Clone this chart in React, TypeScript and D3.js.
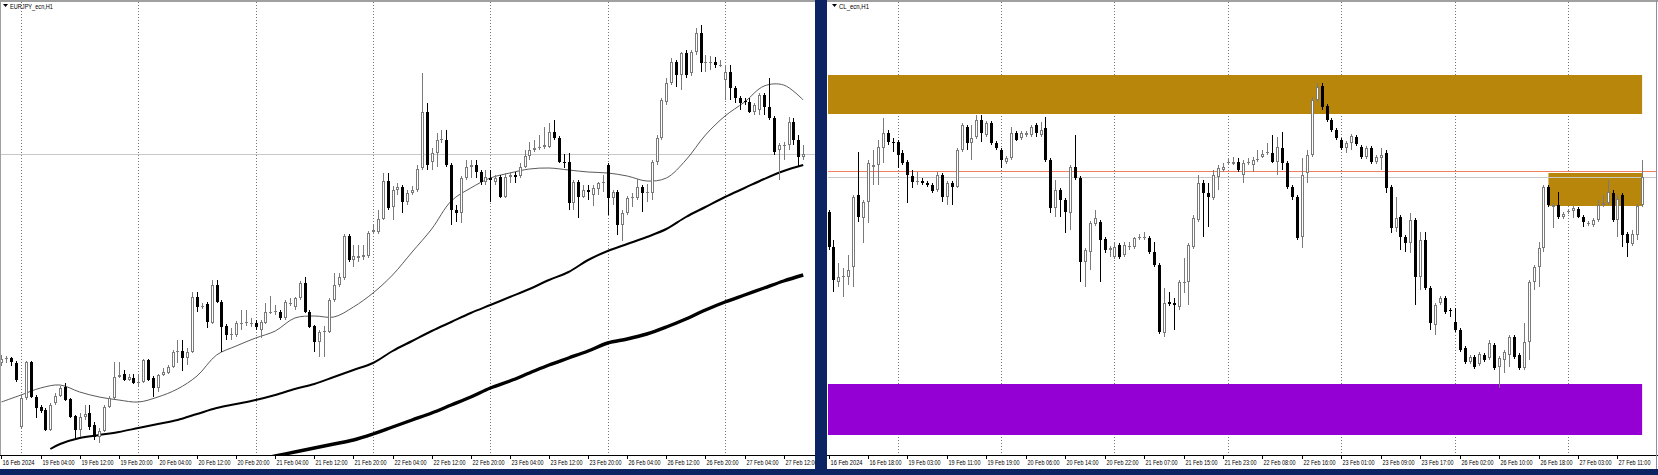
import React from 'react';
import * as d3 from 'd3';

const W = 1658;
const H = 475;

// ---------------- EURJPY_ecn, H1 ----------------
const eurTitle = 'EURJPY_ecn,H1';
const eurLabels = ['16 Feb 2024','19 Feb 04:00','19 Feb 12:00','19 Feb 20:00','20 Feb 04:00','20 Feb 12:00','20 Feb 20:00','21 Feb 04:00','21 Feb 12:00','21 Feb 20:00','22 Feb 04:00','22 Feb 12:00','22 Feb 20:00','23 Feb 04:00','23 Feb 12:00','23 Feb 20:00','26 Feb 04:00','26 Feb 12:00','26 Feb 20:00','27 Feb 04:00','27 Feb 12:00'];
const eurLabelBars = [0,8,16,24,32,40,48,56,64,72,80,88,96,104,112,120,128,136,144,152,160];
const eurDayStartBars = [4,28,52,76,100,124,148];

const eurOpen = [160.37,160.41,160.42,160.37,159.73,160.02,160.38,160.03,159.93,159.90,
159.70,159.97,160.04,160.13,160.01,159.84,159.70,159.83,159.87,159.75,
159.63,159.69,159.93,160.02,160.23,160.26,160.20,160.22,160.17,160.18,
160.40,160.22,160.12,160.25,160.27,160.33,160.48,160.49,160.42,160.48,
161.03,160.93,160.96,160.77,161.15,160.98,160.74,160.65,160.65,160.76,
160.77,160.77,160.77,160.70,160.77,160.88,160.88,160.88,160.82,160.97,
160.93,161.02,161.17,160.88,160.74,160.58,160.68,160.68,161.00,161.15,
161.22,161.64,161.40,161.42,161.43,161.44,161.68,161.68,161.81,162.19,
161.93,162.10,162.13,161.98,162.07,162.10,162.32,162.88,162.38,162.47,
162.60,162.60,162.35,161.90,161.87,162.22,162.33,162.35,162.28,162.18,
162.22,162.18,162.23,162.03,162.23,162.25,162.24,162.33,162.44,162.50,
162.52,162.53,162.53,162.68,162.62,162.38,162.38,161.97,162.18,162.03,
162.10,162.05,162.11,162.17,162.35,162.02,162.08,161.75,161.87,162.02,
162.02,162.13,162.07,162.07,162.38,162.62,162.98,163.17,163.38,163.25,
163.47,163.27,163.48,163.67,163.37,163.37,163.38,163.35,163.20,163.28,
163.12,163.02,162.99,162.98,162.88,162.90,163.05,162.93,162.82,162.50,
162.54,162.55,162.78,162.60,162.43];
const eurHigh = [160.45,160.44,160.43,160.39,160.04,160.39,160.39,160.05,159.95,159.92,
159.97,160.07,160.14,160.17,160.02,159.85,159.87,159.95,159.95,159.78,
159.72,159.95,160.04,160.38,160.38,160.30,160.26,160.26,160.25,160.41,
160.41,160.24,160.26,160.32,160.35,160.50,160.60,160.60,160.52,161.08,
161.08,160.97,160.98,161.20,161.20,161.00,160.76,160.72,160.79,160.90,
160.90,160.82,160.80,160.80,160.97,161.04,160.95,160.90,161.00,161.02,
161.03,161.19,161.23,160.90,160.75,160.70,160.74,161.02,161.27,161.27,
161.66,161.66,161.55,161.55,161.55,161.69,161.75,161.90,162.27,162.27,
162.14,162.17,162.15,162.10,162.14,162.35,163.27,162.97,162.52,162.67,
162.70,162.70,162.37,161.95,162.24,162.40,162.40,162.40,162.30,162.30,
162.30,162.25,162.25,162.27,162.28,162.28,162.37,162.50,162.58,162.60,
162.65,162.73,162.77,162.80,162.64,162.46,162.47,162.20,162.20,162.15,
162.15,162.15,162.18,162.25,162.37,162.10,162.10,161.90,162.04,162.07,
162.21,162.15,162.16,162.40,162.65,163.02,163.22,163.42,163.40,163.48,
163.50,163.50,163.72,163.75,163.45,163.44,163.43,163.40,163.35,163.35,
163.14,163.04,163.02,163.02,162.97,163.07,163.07,163.22,162.84,162.57,
162.58,162.83,162.82,162.65,162.55];
const eurLow = [160.34,160.37,160.34,160.18,159.72,160.00,160.02,159.82,159.87,159.69,
159.69,159.95,160.03,159.99,159.82,159.60,159.63,159.80,159.70,159.60,
159.57,159.68,159.92,160.01,160.22,160.19,160.19,160.16,160.14,160.17,
160.19,160.03,160.08,160.24,160.26,160.32,160.37,160.29,160.35,160.47,
160.88,160.91,160.72,160.76,160.97,160.48,160.60,160.60,160.63,160.70,
160.74,160.73,160.70,160.62,160.76,160.86,160.85,160.80,160.80,160.94,
160.90,161.00,160.87,160.72,160.48,160.43,160.43,160.67,160.98,161.13,
161.20,161.38,161.33,161.38,161.40,161.42,161.66,161.66,161.80,161.90,
161.80,162.05,161.87,161.95,162.05,162.08,162.30,162.30,162.30,162.33,
162.57,162.33,161.75,161.78,161.77,162.20,162.22,162.22,162.15,162.15,
161.98,162.15,162.02,162.02,162.17,162.17,162.22,162.32,162.40,162.48,
162.50,162.51,162.52,162.60,162.37,162.32,161.90,161.90,161.82,162.02,
162.00,161.94,162.05,162.08,161.85,161.95,161.65,161.59,161.85,161.93,
162.00,161.88,161.98,162.00,162.35,162.60,162.95,163.15,163.13,163.10,
163.22,163.24,163.45,163.28,163.28,163.30,163.32,163.33,163.00,163.00,
162.97,162.90,162.95,162.87,162.85,162.85,162.85,162.80,162.45,162.20,
162.40,162.50,162.55,162.33,162.40];
const eurClose = [160.41,160.42,160.38,160.20,160.02,160.38,160.03,159.92,159.89,159.70,
159.95,160.04,160.12,160.00,159.83,159.70,159.83,159.86,159.73,159.63,
159.69,159.93,160.02,160.23,160.25,160.20,160.23,160.17,160.18,160.40,
160.20,160.12,160.25,160.28,160.33,160.48,160.49,160.42,160.48,161.03,
160.93,160.94,160.78,161.15,160.98,160.73,160.65,160.66,160.77,160.77,
160.78,160.77,160.73,160.78,160.88,160.88,160.89,160.82,160.98,160.97,
161.02,161.17,160.88,160.73,160.58,160.68,160.69,161.00,161.15,161.23,
161.64,161.40,161.44,161.44,161.45,161.67,161.70,161.81,162.19,161.92,
162.10,162.13,161.98,162.07,162.10,162.31,162.88,162.35,162.47,162.60,
162.61,162.35,161.90,161.87,162.22,162.33,162.35,162.28,162.18,162.23,
162.20,162.22,162.03,162.23,162.25,162.23,162.33,162.44,162.50,162.52,
162.53,162.55,162.68,162.62,162.38,162.37,161.97,162.18,162.03,162.10,
162.08,162.12,162.17,162.18,162.02,162.08,161.75,161.87,162.02,162.03,
162.13,162.07,162.08,162.38,162.62,163.00,163.17,163.38,163.25,163.47,
163.25,163.48,163.67,163.37,163.38,163.38,163.35,163.35,163.28,163.12,
163.02,162.97,162.98,162.88,162.95,163.05,162.93,162.82,162.48,162.55,
162.55,162.78,162.60,162.43,162.46];

// moving averages, sampled at bar indices
const eurMaFastBars = [0,4,8,12,16,20,24,28,32,36,40,44,48,52,56,60,64,68,72,76,80,84,88,92,96,100,104,108,112,116,120,124,128,132,136,140,144,148,152,156,160,164];
const eurMaFast = [159.98,160.05,160.12,160.15,160.08,160.03,160.00,159.98,160.03,160.11,160.24,160.45,160.54,160.62,160.69,160.82,160.84,160.83,160.93,161.07,161.25,161.48,161.71,161.99,162.12,162.22,162.27,162.31,162.32,162.30,162.28,162.27,162.24,162.19,162.22,162.40,162.65,162.84,162.98,163.14,163.15,163.00];
const eurMaMidBars = [10,12,16,20,24,28,32,36,40,44,48,52,56,60,64,68,72,76,80,84,88,92,96,100,104,108,112,116,120,124,128,132,136,140,144,148,152,156,160,164];
const eurMaMid = [159.51,159.56,159.62,159.65,159.68,159.72,159.76,159.80,159.86,159.92,159.96,160.00,160.05,160.11,160.16,160.23,160.30,160.37,160.49,160.59,160.69,160.78,160.87,160.95,161.03,161.11,161.20,161.28,161.40,161.49,161.56,161.63,161.71,161.83,161.93,162.03,162.12,162.21,162.29,162.35];
const eurMaSlowBars = [54,56,60,64,68,72,76,80,84,88,92,96,100,104,108,112,116,120,124,128,132,136,140,144,148,152,156,160,164];
const eurMaSlow = [159.42,159.44,159.48,159.52,159.56,159.60,159.66,159.73,159.80,159.87,159.95,160.03,160.12,160.19,160.27,160.35,160.42,160.49,160.57,160.61,160.66,160.73,160.81,160.90,160.98,161.05,161.12,161.19,161.25];

// ---------------- CL_ecn, H1 ----------------
const clTitle = 'CL_ecn,H1';
const clLabels = ['16 Feb 2024','16 Feb 18:00','19 Feb 03:00','19 Feb 11:00','19 Feb 19:00','20 Feb 06:00','20 Feb 14:00','20 Feb 22:00','21 Feb 07:00','21 Feb 15:00','21 Feb 23:00','22 Feb 08:00','22 Feb 16:00','23 Feb 01:00','23 Feb 09:00','23 Feb 17:00','26 Feb 02:00','26 Feb 10:00','26 Feb 18:00','27 Feb 03:00','27 Feb 11:00'];
const clLabelBars = [0,8,16,24,32,40,48,56,64,72,80,88,96,104,112,120,128,136,144,152,160];
const clDayStartBars = [14,35,58,81,104,127,150];

const clOpen = [77.88,77.53,77.18,77.23,77.23,77.33,78.05,77.82,77.98,78.33,
78.35,78.52,78.67,78.58,78.58,78.47,78.38,78.24,78.18,78.19,
78.17,78.15,78.10,78.25,78.03,78.17,78.13,78.50,78.73,78.57,
78.63,78.80,78.65,78.77,78.57,78.50,78.38,78.42,78.67,78.62,
78.65,78.65,78.75,78.65,78.72,78.40,77.92,78.10,78.00,77.87,
78.33,78.22,77.38,77.48,77.76,77.78,77.61,77.50,77.43,77.55,
77.45,77.53,77.53,77.63,77.62,77.62,77.48,77.35,76.67,76.98,
76.97,76.93,77.17,77.18,77.53,77.80,78.17,78.07,78.02,78.23,
78.30,78.37,78.36,78.38,78.25,78.37,78.35,78.40,78.43,78.47,
78.47,78.38,78.52,78.37,78.13,78.03,77.63,78.27,78.45,79.00,
79.14,78.94,78.80,78.70,78.60,78.52,78.57,78.63,78.53,78.43,
78.52,78.38,78.42,78.47,78.13,77.72,77.83,77.63,77.57,77.80,
77.23,77.60,77.12,76.75,76.97,77.02,76.90,76.78,76.70,76.52,
76.38,76.43,76.36,76.45,76.42,76.55,76.33,76.40,76.45,76.63,
76.45,76.32,76.58,77.18,77.33,77.52,78.13,77.93,77.95,77.83,
77.88,77.89,77.91,77.83,77.76,77.75,77.80,77.95,77.97,78.07,
77.80,78.05,77.66,77.56,77.65,77.95];
const clHigh = [77.90,77.60,77.37,77.32,77.45,78.05,78.48,78.00,78.40,78.50,
78.60,78.82,78.70,78.62,78.60,78.50,78.40,78.30,78.28,78.22,
78.19,78.17,78.28,78.27,78.19,78.19,78.52,78.77,78.75,78.75,
78.85,78.85,78.79,78.79,78.59,78.52,78.44,78.73,78.69,78.69,
78.69,78.75,78.77,78.78,78.83,78.42,78.20,78.12,78.02,78.35,
78.65,78.24,77.52,77.79,77.90,77.80,77.63,77.54,77.58,77.57,
77.58,77.58,77.63,77.66,77.68,77.64,77.58,77.37,77.12,77.08,
77.02,77.20,77.42,77.57,77.85,78.25,78.20,78.17,78.30,78.35,
78.37,78.42,78.43,78.42,78.40,78.42,78.43,78.50,78.50,78.57,
78.65,78.63,78.68,78.39,78.15,78.05,78.42,78.50,79.03,79.17,
79.17,78.96,78.82,78.72,78.62,78.59,78.66,78.65,78.55,78.54,
78.54,78.45,78.52,78.50,78.15,78.03,77.85,77.65,77.87,77.82,
77.68,77.68,77.14,76.97,77.04,77.04,76.92,76.92,76.72,76.54,
76.45,76.45,76.48,76.47,76.60,76.57,76.44,76.50,76.65,76.65,
76.47,76.77,77.20,77.35,77.58,78.15,78.15,77.97,78.08,77.88,
77.91,77.94,77.93,77.85,77.79,77.82,78.00,78.05,78.20,78.10,
78.05,78.07,77.68,77.70,77.96,78.40];
const clLow = [77.50,77.08,77.13,77.03,77.15,77.13,77.78,77.57,77.77,78.15,
78.15,78.37,78.55,78.48,78.32,78.35,77.97,78.12,78.15,78.15,
78.13,78.07,78.08,77.98,77.95,77.95,78.12,78.48,78.50,78.40,
78.61,78.58,78.63,78.55,78.50,78.32,78.36,78.40,78.59,78.60,
78.63,78.63,78.63,78.63,78.38,77.87,77.83,77.83,77.67,77.70,
78.20,77.18,77.13,77.30,77.74,77.18,77.47,77.43,77.41,77.41,
77.43,77.50,77.51,77.60,77.60,77.46,77.33,76.66,76.63,76.94,
76.70,76.90,77.07,76.95,77.51,77.78,77.63,77.73,78.00,78.10,
78.28,78.35,78.35,78.28,78.17,78.35,78.28,78.38,78.42,78.45,
78.37,78.25,78.30,78.11,78.00,77.60,77.52,78.17,78.43,78.98,
78.90,78.78,78.68,78.60,78.50,78.47,78.50,78.54,78.41,78.41,
78.36,78.36,78.30,78.07,77.67,77.68,77.50,77.48,77.47,76.95,
77.10,77.10,76.70,76.65,76.95,76.86,76.83,76.68,76.48,76.36,
76.36,76.31,76.34,76.38,76.40,76.30,76.12,76.27,76.33,76.41,
76.30,76.30,76.40,77.10,77.13,77.48,77.93,77.72,77.81,77.81,
77.86,77.82,77.82,77.73,77.74,77.73,77.78,77.93,77.95,77.78,
77.63,77.53,77.43,77.54,77.60,77.93];
const clClose = [77.53,77.20,77.23,77.24,77.30,78.03,77.83,77.98,78.37,78.35,
78.53,78.67,78.58,78.57,78.45,78.37,78.25,78.18,78.19,78.17,
78.15,78.09,78.25,78.03,78.17,78.13,78.50,78.75,78.57,78.62,
78.80,78.67,78.77,78.57,78.52,78.40,78.42,78.67,78.60,78.67,
78.67,78.73,78.67,78.70,78.40,77.92,78.10,78.00,77.88,78.33,
78.22,77.38,77.50,77.77,77.82,77.60,77.50,77.52,77.53,77.43,
77.55,77.54,77.62,77.63,77.63,77.48,77.35,76.68,76.97,76.96,
76.95,77.18,77.18,77.55,77.82,78.17,78.07,78.03,78.25,78.32,
78.33,78.38,78.38,78.30,78.37,78.38,78.40,78.41,78.46,78.48,
78.38,78.53,78.37,78.13,78.03,77.62,78.25,78.45,79.00,79.13,
78.93,78.80,78.70,78.62,78.52,78.57,78.64,78.56,78.43,78.52,
78.38,78.43,78.45,78.12,77.72,77.82,77.63,77.57,77.80,77.23,
77.60,77.12,76.77,76.95,77.02,76.88,76.89,76.70,76.50,76.38,
76.43,76.33,76.46,76.40,76.57,76.32,76.42,76.48,76.63,76.43,
76.32,76.58,77.18,77.33,77.52,78.13,77.95,77.95,77.83,77.86,
77.89,77.92,77.83,77.78,77.77,77.80,77.95,77.97,78.08,77.80,
78.01,77.65,77.57,77.66,77.94,78.23];

// CL zones (price ranges) and lines
const clZoneTop = [79.25, 78.86];      // upper zone [high, low]
const clZoneBottom = [76.16, 75.65];   // lower zone [high, low]
const clZoneSmall = [78.27, 77.94];    // recent small zone [high, low]
const clZoneSmallBars = [146, 165];
const clAskLine = 78.29;

// ---------------- layout ----------------
const DARK = '#0c2461';
const PLOT_BOTTOM = 455;
const LABEL_FONT = "'Liberation Sans Narrow', 'Liberation Sans', Arial, sans-serif";

type PanelSpec = {
  x0: number; x1: number;
  firstX: number; step: number;
  yDomain: [number, number];
};

const leftSpec: PanelSpec = { x0: 0, x1: 815, firstX: 1.44, step: 4.889, yDomain: [159.45, 164.0] };
const rightSpec: PanelSpec = { x0: 827, x1: 1657, firstX: 828.5, step: 4.931, yDomain: [75.45, 80.0] };

function makeScales(spec: PanelSpec, n: number) {
  const x = d3.scaleLinear().domain([0, n - 1]).range([spec.firstX, spec.firstX + spec.step * (n - 1)]);
  const y = d3.scaleLinear().domain(spec.yDomain).range([PLOT_BOTTOM, 0]);
  return { x, y };
}

function Candles({ open, high, low, close, x, y }: any) {
  return (
    <g>
      {open.map((o: number, i: number) => {
        const c = close[i];
        const up = c >= o;
        const px = Math.round(x(i));
        const yt = Math.round(y(Math.max(o, c)));
        let yb = Math.round(y(Math.min(o, c)));
        if (yb - yt < 1) yb = yt + 1;
        const yh = Math.round(y(high[i]));
        const yl = Math.round(y(low[i]));
        const col = up ? '#7a7a7a' : '#000';
        return (
          <g key={i}>
            <line x1={px + 0.5} x2={px + 0.5} y1={yh} y2={yl} stroke={col} strokeWidth={1} />
            <rect x={px - 0.5} y={yt + 0.5} width={2} height={Math.max(yb - yt - 1, 0.01)}
              fill={up ? '#fff' : '#000'} stroke={col} strokeWidth={1} />
          </g>
        );
      })}
    </g>
  );
}

function Axis({ labels, bars, x }: any) {
  return (
    <g>
      {bars.map((b: number, k: number) => {
        const px = Math.round(x(b)) + 0.5;
        return (
          <g key={k}>
            <line x1={px} x2={px} y1={PLOT_BOTTOM} y2={PLOT_BOTTOM + 4} stroke="#000" strokeWidth={1} />
            <text x={px + 1} y={465} fontSize={6.4} fontFamily={LABEL_FONT}
              textLength={32} lengthAdjust="spacingAndGlyphs" fill="#000">{labels[k]}</text>
          </g>
        );
      })}
    </g>
  );
}

function Grid({ bars, x }: any) {
  return (
    <g>
      {bars.map((b: number, k: number) => {
        const px = Math.round(x(b)) + 0.5;
        return <line key={k} x1={px} x2={px} y1={2} y2={PLOT_BOTTOM} stroke="#777" strokeWidth={1} strokeDasharray="1 2" />;
      })}
    </g>
  );
}

function Title({ x, text, len }: any) {
  return (
    <g>
      <path d={`M${x},4 L${x + 5},4 L${x + 2.5},7 Z`} fill="#000" />
      <text x={x + 7} y={9} fontSize={7} fontFamily={LABEL_FONT} textLength={len} lengthAdjust="spacingAndGlyphs" fill="#000">{text}</text>
    </g>
  );
}

export default function App() {
  const L = makeScales(leftSpec, eurOpen.length);
  const R = makeScales(rightSpec, clOpen.length);

  const lineL = (bars: number[], vals: number[]) =>
    d3.line<number>().x((_, i) => L.x(bars[i])).y((v) => L.y(v)).curve(d3.curveCatmullRom)(vals) || '';

  const lastEur = eurClose[eurClose.length - 1];
  const lastCl = clClose[clClose.length - 1];

  const zoneRightX = R.x(clOpen.length - 1);
  const zoneLeftX = rightSpec.x0 + 1;

  return (
    <div style={{ position: 'fixed', left: 0, top: 0, width: W, height: H }}>
      <svg width={W} height={H} style={{ display: 'block' }}>
        <defs>
          <clipPath id="clipL"><rect x={1} y={2} width={leftSpec.x1 - 1} height={PLOT_BOTTOM - 2} /></clipPath>
          <clipPath id="clipR"><rect x={rightSpec.x0 + 1} y={2} width={rightSpec.x1 - rightSpec.x0 - 1} height={PLOT_BOTTOM - 2} /></clipPath>
        </defs>
        <rect x={0} y={0} width={W} height={H} fill="#fff" />

        {/* ---------- left panel ---------- */}
        <g clipPath="url(#clipL)">
          <Grid bars={eurDayStartBars} x={L.x} />
          <line x1={0} x2={leftSpec.x1} y1={Math.round(L.y(lastEur)) + 0.5} y2={Math.round(L.y(lastEur)) + 0.5} stroke="#c8c8c8" strokeWidth={1} />
          <path d={lineL(eurMaSlowBars, eurMaSlow)} fill="none" stroke="#000" strokeWidth={3.4} />
          <path d={lineL(eurMaMidBars, eurMaMid)} fill="none" stroke="#000" strokeWidth={2} />
          <path d={lineL(eurMaFastBars, eurMaFast)} fill="none" stroke="#5a5a5a" strokeWidth={1} />
          <Candles open={eurOpen} high={eurHigh} low={eurLow} close={eurClose} x={L.x} y={L.y} />
        </g>
        <Axis labels={eurLabels} bars={eurLabelBars} x={L.x} />
        <Title x={3} text={eurTitle} len={43} />

        {/* ---------- right panel ---------- */}
        <g clipPath="url(#clipR)">
          <Grid bars={clDayStartBars} x={R.x} />
          <rect x={zoneLeftX} y={R.y(clZoneTop[0])} width={zoneRightX - zoneLeftX} height={R.y(clZoneTop[1]) - R.y(clZoneTop[0])} fill="#b8860b" />
          <rect x={zoneLeftX} y={R.y(clZoneBottom[0])} width={zoneRightX - zoneLeftX} height={R.y(clZoneBottom[1]) - R.y(clZoneBottom[0])} fill="#9400d3" />
          <rect x={R.x(clZoneSmallBars[0])} y={R.y(clZoneSmall[0])} width={R.x(clZoneSmallBars[1]) - R.x(clZoneSmallBars[0])} height={R.y(clZoneSmall[1]) - R.y(clZoneSmall[0])} fill="#b8860b" />
          <line x1={rightSpec.x0} x2={rightSpec.x1} y1={Math.round(R.y(clAskLine)) + 0.5} y2={Math.round(R.y(clAskLine)) + 0.5} stroke="#f08060" strokeWidth={1} />
          <line x1={rightSpec.x0} x2={rightSpec.x1} y1={Math.round(R.y(lastCl)) + 0.5} y2={Math.round(R.y(lastCl)) + 0.5} stroke="#c8c8c8" strokeWidth={1} />
          <Candles open={clOpen} high={clHigh} low={clLow} close={clClose} x={R.x} y={R.y} />
        </g>
        <Axis labels={clLabels} bars={clLabelBars} x={R.x} />
        <Title x={rightSpec.x0 + 5} text={clTitle} len={30} />

        {/* ---------- frames ---------- */}
        <line x1={0} x2={W} y1={1} y2={1} stroke="#a0a0a0" strokeWidth={2} />
        <line x1={0.5} x2={0.5} y1={0} y2={PLOT_BOTTOM} stroke="#a0a0a0" strokeWidth={1} />
        <line x1={0} x2={W} y1={PLOT_BOTTOM + 0.5} y2={PLOT_BOTTOM + 0.5} stroke="#000" strokeWidth={1} />
        <line x1={W - 1.5} x2={W - 1.5} y1={0} y2={469} stroke="#8a8fa8" strokeWidth={1} />
        <rect x={815} y={0} width={12} height={H} fill={DARK} />
        <rect x={0} y={469} width={W} height={H - 469} fill={DARK} />
      </svg>
    </div>
  );
}
